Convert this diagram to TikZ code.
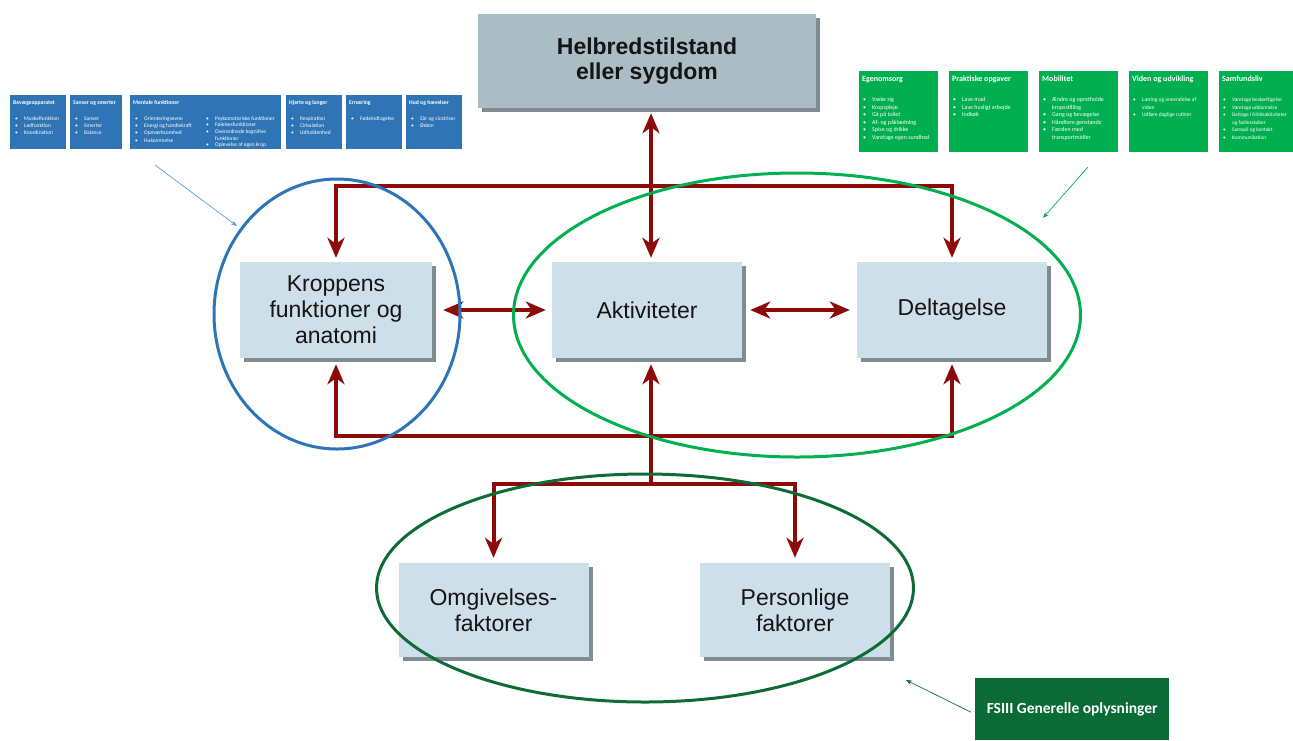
\documentclass[tikz,border=0pt]{standalone}
\usepackage{fontspec}
\setmainfont{Liberation Sans}
\newfontfamily\calfont{Carlito}
\usetikzlibrary{arrows.meta,shapes.geometric,shadows}
\definecolor{boxc}{HTML}{CDDFE8}
\definecolor{helbc}{HTML}{AABCC4}
\definecolor{shadc}{HTML}{7F8C92}
\definecolor{dred}{HTML}{8C0A0A}
\definecolor{bluec}{HTML}{2E75B6}
\definecolor{blueboxc}{HTML}{2F75B5}
\definecolor{thinblue}{HTML}{5B9BD5}
\definecolor{greenc}{HTML}{00B050}
\definecolor{dgreenc}{HTML}{0E6B35}
\definecolor{fsc}{HTML}{0B6B36}
\newcommand\bitem[1]{\par\hangindent=11pt\hangafter=1\noindent\makebox[11pt][l]{\hspace{2pt}\textbullet}#1}
\newcommand\ritem[1]{\par\hangindent=9pt\hangafter=1\noindent\makebox[9pt][l]{\hspace{0pt}\textbullet}#1}
\newcommand\gitem[1]{\par\hangindent=10pt\hangafter=1\noindent\makebox[10pt][l]{\hspace{1pt}\textbullet}#1}
\newcommand\btitle[1]{\noindent\rule{0pt}{9pt}{\bfseries\fontsize{5.7}{7.3}\selectfont #1}\par\vspace{8.7pt}}
\newcommand\gtitle[1]{\noindent\rule{0pt}{10.5pt}{\bfseries\fontsize{8}{7.5}\selectfont #1}\par\vspace{12.5pt}}
\begin{document}
\begin{tikzpicture}[x=1pt,y=-1pt,
  mbox/.style={fill=boxc, minimum width=190pt, minimum height=96pt, align=center,
    font=\fontsize{23}{26}\selectfont, text=black!92, inner sep=0pt,
    drop shadow={shadow xshift=4pt,shadow yshift=-4pt,fill=shadc,opacity=1}},
  rarr/.style={draw=dred, line width=4pt},
  rt/.tip={Stealth[length=20pt,width=17pt,inset=6pt]},
  ell/.style={ellipse, inner sep=0pt, line width=3pt},
  bbox/.style={fill=blueboxc, anchor=north west, inner xsep=3pt, inner ysep=0pt, text=white,
    font=\calfont\fontsize{5.5}{7.3}\selectfont},
  gbox/.style={fill=greenc, anchor=north west, inner xsep=3pt, inner ysep=0pt, text=white,
    font=\calfont\fontsize{6}{7.5}\selectfont},
  thinarr/.style={line width=0.7pt, -{Stealth[length=6pt,width=4.5pt]}}
]
\useasboundingbox (0,0) rectangle (1293,740);

% main boxes
\node[mbox, fill=helbc, minimum width=338pt, minimum height=94pt,
  font=\bfseries\fontsize{23}{25}\selectfont] (helb) at (647,61) {Helbredstilstand\\eller sygdom};
\node[mbox, minimum width=192pt] (krop) at (336,310) {Kroppens\\funktioner og\\anatomi};
\node[mbox] (akt) at (647,310) {Aktiviteter};
\node[mbox] (delt) at (952,310) {Deltagelse};
\node[mbox, minimum height=94pt] (omg) at (493.5,610) {Omgivelses-\\faktorer};
\node[mbox, minimum height=94pt] (pers) at (795,610) {Personlige\\faktorer};

% helper coordinates
\coordinate (topy) at (0,186);
\coordinate (boty) at (0,436);
\coordinate (bry) at (0,484);
\coordinate (av) at ([xshift=4pt]akt.south);

% red connectors
\draw[rarr, rt-rt] ([xshift=4pt,yshift=-5pt]helb.south) -- ([xshift=4pt,yshift=4pt]akt.north);
\draw[rarr, rt-rt] ([yshift=4pt]krop.north) -- (krop.north |- topy) -| ([yshift=4pt]delt.north);
\draw[rarr, rt-rt] ([yshift=-6pt]krop.south) -- (krop.south |- boty) -| ([yshift=-6pt]delt.south);
\draw[rarr, rt-] ([yshift=-6pt]av) -- (av |- bry);
\draw[rarr, rt-rt] ([yshift=5pt]omg.north) -- (omg.north |- bry) -| ([yshift=5pt]pers.north);
\draw[rarr, rt-rt] ([xshift=11pt]krop.east) -- ([xshift=-6pt]akt.west);
\draw[rarr, rt-rt] ([xshift=8pt]akt.east) -- ([xshift=-7pt]delt.west);

% ellipses
\node[ell, draw=bluec, minimum width=246pt, minimum height=270pt] (ebl) at (337,314) {};
\node[ell, draw=greenc, minimum width=567pt, minimum height=284pt] (egr) at (797,315) {};
\node[ell, draw=dgreenc, minimum width=537pt, minimum height=228pt] (edg) at (645,588) {};

% blue boxes
\node[bbox] (b1) at (10,95) {\parbox[t][54pt][t]{50pt}{\btitle{Bevægeapparatet}\bitem{Muskelfunktion}\bitem{Ledfunktion}\bitem{Koordination}}};
\node[bbox] (b2) at (70,95) {\parbox[t][54pt][t]{46pt}{\btitle{Sanser og smerter}\bitem{Sanser}\bitem{Smerter}\bitem{Balance}}};
\node[bbox] (b3) at (130,95) {\parbox[t][54pt][t]{145pt}{\btitle{Mentale funktioner}\noindent\begin{minipage}[t]{73pt}\bitem{Orienteringsevne}\bitem{Energi og handlekraft}\bitem{Opmærksomhed}\bitem{Hukommelse}\end{minipage}\begin{minipage}[t]{72pt}\fontsize{5.5}{6.6}\selectfont\ritem{Psykomotoriske funktioner}\ritem{Følelsesfunktioner}\ritem{Overordnede kognitive\newline funktioner}\ritem{Oplevelse af egen krop}\end{minipage}}};
\node[bbox] (b4) at (286,95) {\parbox[t][54pt][t]{50pt}{\btitle{Hjerte og lunger}\bitem{Respiration}\bitem{Cirkulation}\bitem{Udholdenhed}}};
\node[bbox] (b5) at (346,95) {\parbox[t][54pt][t]{50pt}{\btitle{Ernæring}\bitem{Fødeindtagelse}}};
\node[bbox] (b6) at (406,95) {\parbox[t][54pt][t]{50pt}{\btitle{Hud og hævelser}\bitem{Sår og cicatriser}\bitem{Ødem}}};

% green boxes
\node[gbox] (g1) at (859,71) {\parbox[t][81pt][t]{73pt}{\gtitle{Egenomsorg}\gitem{Vaske sig}\gitem{Kropspleje}\gitem{Gå på toilet}\gitem{Af- og påklædning}\gitem{Spise og drikke}\gitem{Varetage egen sundhed}}};
\node[gbox] (g2) at (949,71) {\parbox[t][81pt][t]{73pt}{\gtitle{Praktiske opgaver}\gitem{Lave mad}\gitem{Lave husligt arbejde}\gitem{Indkøb}}};
\node[gbox] (g3) at (1039,71) {\parbox[t][81pt][t]{73pt}{\gtitle{Mobilitet}\gitem{Ændre og opretholde\newline kropsstilling}\gitem{Gang og bevægelse}\gitem{Håndtere genstande}\gitem{Færden med\newline transportmidler}}};
\node[gbox] (g4) at (1129,71) {\parbox[t][81pt][t]{73pt}{\gtitle{Viden og udvikling}\fontsize{5.5}{7.5}\selectfont\gitem{Læring og anvendelse af\newline viden}\gitem{Udføre daglige rutiner}}};
\node[gbox] (g5) at (1219,71) {\parbox[t][81pt][t]{68pt}{\gtitle{Samfundsliv}\fontsize{5.3}{7.5}\selectfont\gitem{Varetage beskæftigelse}\gitem{Varetage uddannelse}\gitem{Deltage i fritidsaktiviteter\newline og fællesskaber}\gitem{Samspil og kontakt}\gitem{Kommunikation}}};

% FSIII box
\node[fill=fsc, anchor=north west, minimum width=194pt, minimum height=62pt, inner sep=0pt,
  text=white, font=\calfont\bfseries\fontsize{15.5}{18}\selectfont] (fs) at (975,678) {FSIII Generelle oplysninger};

% thin pointer arrows
\coordinate (bls) at (155,165);
\coordinate (blt) at (237,226);
\coordinate (grs) at (1088,167);
\coordinate (grt) at (1043,218);
\coordinate (fst) at (906,680);
\draw[thinarr, draw=thinblue] (bls) -- (blt);
\draw[thinarr, draw=greenc] (grs) -- (grt);
\draw[thinarr, draw=dgreenc] ([xshift=-4pt,yshift=-3pt]fs.west) -- (fst);
\end{tikzpicture}
\end{document}
